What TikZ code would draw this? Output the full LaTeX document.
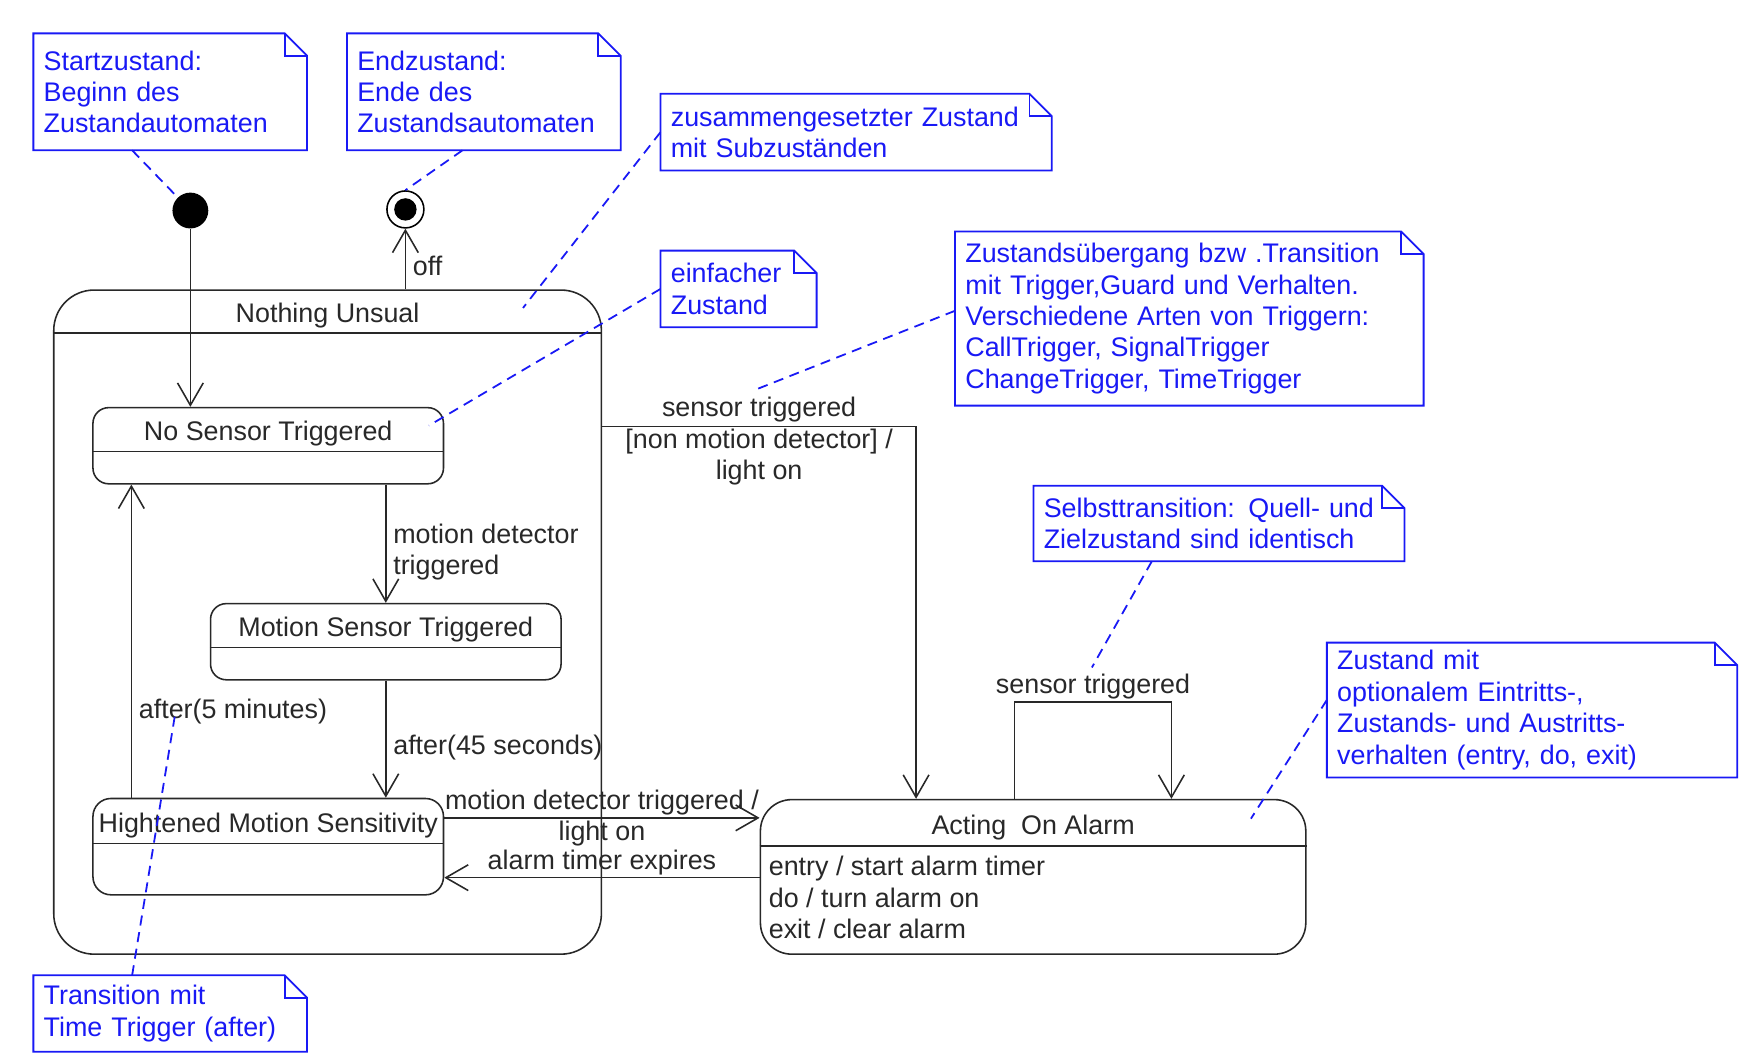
\documentclass[tikz,border=0pt]{standalone}
\usepackage{fontspec}
\setmainfont{Liberation Sans}
\usepackage{tikz}
\usetikzlibrary{
    arrows.meta,
    calc
}

\definecolor{noteblue}{RGB}{25,25,245}
\definecolor{lineblack}{RGB}{40,40,40}

\tikzset{
    state/.style={draw=lineblack, line width=1.4pt, inner sep=0pt},
    divider/.style={draw=lineblack, line width=1.4pt},
    title/.style={anchor=base, inner sep=0pt, text=lineblack},
    startdot/.style={circle, fill=black, minimum size=32pt, inner sep=0pt},
    enddot/.style={circle, draw=black, line width=1.4pt, minimum size=33pt, inner sep=0pt},
    enddotin/.style={circle, fill=black, minimum size=20pt, inner sep=0pt},
    trans/.style={draw=lineblack, line width=1.4pt, -{Straight Barb[length=20pt,width=23pt]}},
    lbl/.style={inner sep=2pt, inner xsep=6pt, text=lineblack},
    note/.style={text=noteblue, align=left, inner xsep=9pt, inner ysep=0pt},
    noteline/.style={draw=noteblue, line width=1.6pt},
    notelink/.style={draw=noteblue, line width=1.6pt, dash pattern=on 9pt off 6pt}
}

\begin{document}
\begin{tikzpicture}[x=1pt, y=-1pt, font=\fontsize{24}{28}\selectfont]
\useasboundingbox (0,0) rectangle (1568,950);

% Pseudo states
\node[startdot] (init) at (170,188) {};
\node[enddot] (final) at (362,187) {};
\node[enddotin] (finalin) at (final) {};

% Composite state
\node[state, minimum width=489pt, minimum height=593pt, rounded corners=36pt] (unsual) at (292.5,555.5) {};
\node[title] (unsualT) at ($(unsual.north)+(0,30)$) {Nothing Unsual};
\draw[divider] ($(unsual.north west)+(0,39)$) -- ($(unsual.north east)+(0,39)$);

% Substates
\node[state, minimum width=313pt, minimum height=68pt, rounded corners=14pt] (nosensor) at (239.5,398) {};
\node[title] (nosensorT) at ($(nosensor.north)+(0,30)$) {No Sensor Triggered};
\draw[divider] ($(nosensor.north west)+(0,40)$) -- ($(nosensor.north east)+(0,40)$);

\node[state, minimum width=313pt, minimum height=68pt, rounded corners=14pt] (motion) at (344.5,573) {};
\node[title] (motionT) at ($(motion.north)+(0,30)$) {Motion Sensor Triggered};
\draw[divider] ($(motion.north west)+(0,40)$) -- ($(motion.north east)+(0,40)$);

\node[state, minimum width=313pt, minimum height=86pt, rounded corners=16pt] (hightened) at (239.5,756) {};
\node[title] (hightenedT) at ($(hightened.north)+(0,31)$) {Hightened Motion Sensitivity};
\draw[divider] ($(hightened.north west)+(0,41)$) -- ($(hightened.north east)+(0,41)$);

% Simple state with behaviour
\node[state, minimum width=487pt, minimum height=138pt, rounded corners=28pt] (acting) at (922.5,783) {};
\node[title] (actingT) at ($(acting.north)+(0,32)$) {Acting~ On Alarm};
\draw[divider] ($(acting.north west)+(0,42)$) -- ($(acting.north east)+(0,42)$);
\node[anchor=north west, inner sep=0pt, align=left, text=lineblack] (actingbody)
    at ($(acting.north west)+(8,51)$) {entry / start alarm timer\\do / turn alarm on\\exit / clear alarm};

% Transitions
\draw[trans] (init) -- (init |- nosensor.north);
\draw[trans] (final |- unsual.north) -- node[lbl, right, pos=0.39] {off} (final);
\draw[trans] (motion.north |- nosensor.south) -- node[lbl, right, pos=0.57, align=left] {motion detector\\triggered} (motion.north);
\draw[trans] (motion.south) -- node[lbl, right, pos=0.57] {after(45 seconds)} (motion.south |- hightened.north);
\draw[trans] ($(hightened.north west)+(35,0)$) -- node[lbl, right, pos=0.275] {after(5 minutes)} ($(nosensor.south west)+(35,0)$);

\coordinate (sensorbend) at (818,381);
\draw[trans] (unsual.east |- sensorbend) -| node[lbl, pos=0.25, yshift=-13pt, align=center]
    {sensor triggered\\{[}non motion detector{]} /\\light on} (acting.north -| sensorbend);

\coordinate (hiout) at ($(hightened.north east)+(0,18)$);
\coordinate (hiin) at ($(hightened.south east)+(0,-16)$);
\draw[trans] (hiout) -- node[lbl, align=center] {motion detector triggered /\\light on} (hiout -| acting.west);
\draw[trans] (hiin -| acting.west) -- node[lbl, above] {alarm timer expires} (hiin);

% Self transition
\coordinate (loopL) at (906,627);
\coordinate (loopR) at (1046,627);
\draw[trans] (loopL |- acting.north) -- (loopL) -- node[lbl, above] {sensor triggered} (loopR) -- (loopR |- acting.north);

% Notes
\node[note, text width=226pt, minimum height=104pt] (nstart) at (152,82) {Startzustand:\\Beginn des\\Zustandautomaten};
\node[note, text width=226pt, minimum height=104pt] (nend) at (432,82) {Endzustand:\\Ende des\\Zustandsautomaten};
\node[note, text width=331pt, minimum height=68pt] (ncomp) at (764.5,118) {zusammengesetzter Zustand\\mit Subzuständen};
\node[note, text width=121pt, minimum height=68pt] (nsimple) at (659.5,258) {einfacher\\Zustand};
\node[note, text width=400pt, minimum height=155pt] (ntrans) at (1062,284.5) {Zustandsübergang bzw .Transition\\mit Trigger,Guard und Verhalten.\\Verschiedene Arten von Triggern:\\CallTrigger, SignalTrigger\\ChangeTrigger, TimeTrigger};
\node[note, text width=313pt, minimum height=67pt] (nself) at (1088.5,467.5) {Selbsttransition: Quell- und\\Zielzustand sind identisch};
\node[note, text width=348pt, minimum height=120pt] (nentry) at (1368,634) {Zustand mit\\optionalem Eintritts-,\\Zustands- und Austritts-\\verhalten (entry, do, exit)};
\node[note, text width=226pt, minimum height=68pt] (ntime) at (152,905) {Transition mit\\Time Trigger (after)};

\foreach \n in {nstart,nend,ncomp,nsimple,ntrans,nself,nentry,ntime}{
    \draw[noteline] (\n.south west) -- (\n.north west) -- ($(\n.north east)+(-20,0)$)
        -- ($(\n.north east)+(0,20)$) -- (\n.south east) -- cycle;
    \draw[noteline] ($(\n.north east)+(-20,0)$) |- ($(\n.north east)+(0,20)$);
}

% Note links
\coordinate (compend) at (467,275);
\coordinate (simpleend) at (383,380);
\coordinate (transend) at (677,347);
\coordinate (selfend) at (975,596);
\coordinate (entryend) at (1117,731);
\coordinate (timeend) at (156,640);

\draw[notelink] ($(nstart.south)+(-34,0)$) -- (init);
\draw[notelink] ($(nend.south)+(-19,0)$) -- (final.north);
\draw[notelink] (ncomp.west) -- (compend);
\draw[notelink] (nsimple.west) -- (simpleend);
\draw[notelink] ($(ntrans.west)+(0,-7)$) -- (transend);
\draw[notelink] ($(nself.south)+(-60,0)$) -- (selfend);
\draw[notelink] ($(nentry.west)+(0,-9)$) -- (entryend);
\draw[notelink] ($(ntime.north)+(-34,0)$) -- (timeend);

\end{tikzpicture}
\end{document}
